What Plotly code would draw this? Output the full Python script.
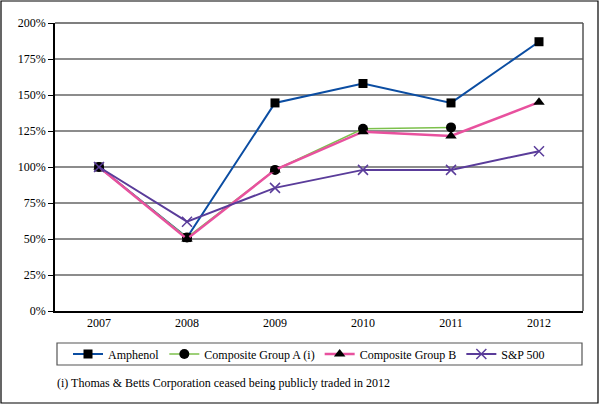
import plotly.graph_objects as go

years = ["2007", "2008", "2009", "2010", "2011", "2012"]
amphenol = [100, 51, 144.5, 158, 144.5, 187]
group_a = [100, 51, 98, 126.5, 127.5, None]
group_b = [100, 50, 98, 124.5, 121.5, 145]
sp500 = [100, 62, 85.5, 98, 98, 111]
ytick_vals = [0, 25, 50, 75, 100, 125, 150, 175, 200]
ytick_text = [f"{v}%" for v in ytick_vals]
footnote = "(i) Thomas &amp; Betts Corporation ceased being publicly traded in 2012"

W, H = 600, 405
L, R, T, B = 55, 17, 23, 94
pw, ph = W - L - R, H - T - B

def px(x):
    return (x - L) / pw

def py(y):
    return (H - B - y) / ph

SERIF = "Liberation Serif, Times New Roman, DejaVu Serif, serif"

fig = go.Figure()
fig.add_trace(go.Scatter(x=years, y=amphenol, name="Amphenol", mode="lines+markers",
                         line=dict(color="#0B4DA2", width=2),
                         marker=dict(symbol="square", size=9, color="black")))
fig.add_trace(go.Scatter(x=years, y=group_a, name="Composite Group A (i)", mode="lines+markers",
                         line=dict(color="#7CC04B", width=1.5),
                         marker=dict(symbol="circle", size=10, color="black")))
fig.add_trace(go.Scatter(x=years, y=group_b, name="Composite Group B", mode="lines+markers",
                         line=dict(color="#E8519E", width=2.5),
                         marker=dict(symbol="triangle-up", size=10, color="black")))
fig.add_trace(go.Scatter(x=years, y=sp500, name="S&amp;P 500", mode="lines+markers",
                         line=dict(color="#5A3C9A", width=2),
                         marker=dict(symbol="x-thin-open", size=10, color="#5A3C9A",
                                     line=dict(color="#5A3C9A", width=1.5))))

fig.update_layout(
    width=W, height=H, autosize=False,
    margin=dict(l=L, r=R, t=T, b=B),
    paper_bgcolor="white", plot_bgcolor="white",
    font=dict(family=SERIF, size=12, color="black"),
    showlegend=True,
    legend=dict(orientation="h", x=px(68), xanchor="left", y=py(354), yanchor="middle",
                bgcolor="rgba(0,0,0,0)", font=dict(family=SERIF, size=12), itemwidth=30),
    xaxis=dict(type="category", showgrid=False, showline=True, linecolor="black", linewidth=1.5,
               mirror=False, ticks="", tickfont=dict(family=SERIF, size=12), range=[-0.5, 5.5]),
    yaxis=dict(range=[0, 200], tickvals=ytick_vals, ticktext=ytick_text, showgrid=True,
               gridcolor="#8C8C8C", gridwidth=1.5, showline=True, linecolor="black", linewidth=1.5,
               ticks="outside", ticklen=5, tickcolor="black", zeroline=False,
               tickfont=dict(family=SERIF, size=12)),
    shapes=[
        dict(type="line", xref="paper", yref="paper", x0=0, x1=1, y0=1, y1=1,
             line=dict(color="#555555", width=1.5)),
        dict(type="line", xref="paper", yref="paper", x0=1, x1=1, y0=0, y1=1,
             line=dict(color="#555555", width=1.5)),
        dict(type="rect", xref="paper", yref="paper", x0=px(57), x1=px(582), y0=py(365), y1=py(343),
             line=dict(color="#555555", width=1.2)),
        dict(type="rect", xref="paper", yref="paper", x0=px(1), x1=px(598), y0=py(403), y1=py(1),
             line=dict(color="black", width=1.2)),
    ],
    annotations=[
        dict(text=footnote, xref="paper", yref="paper", x=px(55), y=py(383), xanchor="left",
             yanchor="middle", showarrow=False, font=dict(family=SERIF, size=12)),
    ],
)

fig.write_html("out.html", config={"displayModeBar": False},
               post_script="document.body.style.margin='0px';document.body.style.overflow='hidden';")
